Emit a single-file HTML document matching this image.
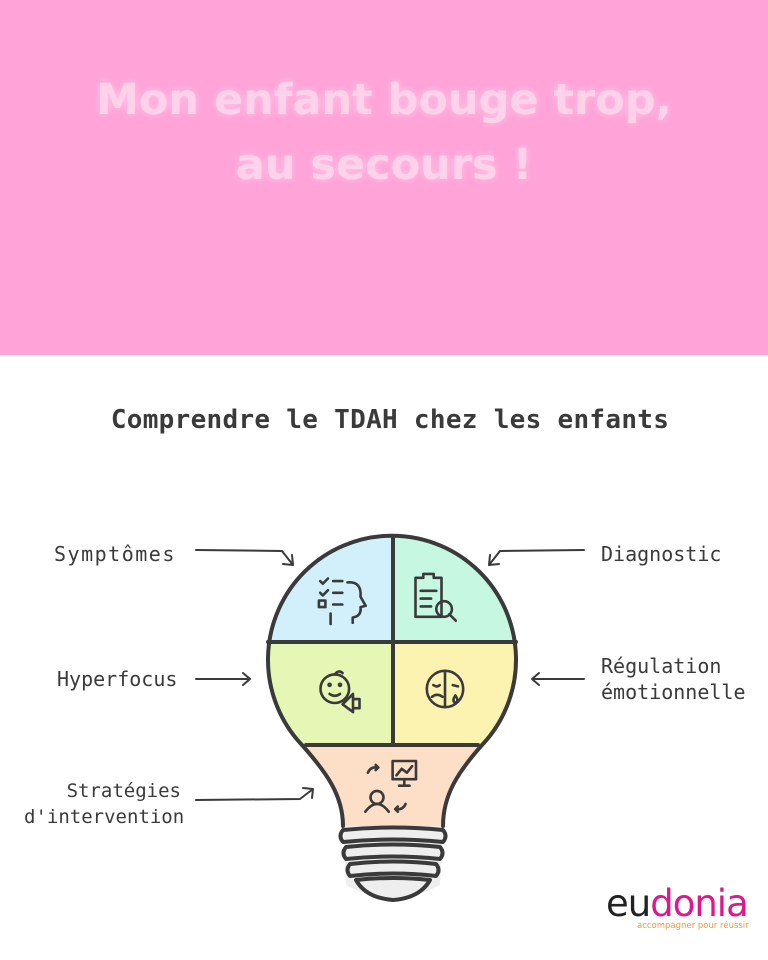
<!DOCTYPE html>
<html><head><meta charset="utf-8"><style>
body{margin:0;width:768px;height:960px;background:#fff;position:relative;overflow:hidden;font-family:"Liberation Sans",sans-serif}
.top{position:absolute;left:0;top:0;width:768px;height:355px;background:#FFA3D8}
.t{position:absolute;left:0;width:768px;text-align:center;color:#FFD2EC;font-weight:bold;font-size:43px;font-family:"DejaVu Sans",sans-serif;text-shadow:0 0 8px rgba(255,255,255,0.4)}
.sub{position:absolute;left:0;width:780px;top:405px;text-align:center;font-weight:bold;font-size:26px;color:#3a3a3a;font-family:"DejaVu Sans Mono","DejaVu Sans",sans-serif;letter-spacing:0.3px}
.l{position:absolute;font-size:20px;color:#3a3a3a;font-family:"DejaVu Sans Mono","DejaVu Sans",sans-serif;line-height:26px}
</style></head><body>
<div class="top"></div>
<div class="t" style="top:75px">Mon enfant bouge trop,</div>
<div class="t" style="top:140px">au secours !</div>
<div class="sub">Comprendre le TDAH chez les enfants</div>
<div class="l" style="left:54px;top:541px;letter-spacing:1.5px">Symptômes</div>
<div class="l" style="left:601px;top:541px">Diagnostic</div>
<div class="l" style="left:57px;top:666px">Hyperfocus</div>
<div class="l" style="left:601px;top:653px">Régulation<br>émotionnelle</div>
<div class="l" style="left:24px;top:778px;text-align:right;width:157px;font-size:19px">Stratégies<br>d'intervention</div>
<svg width="768" height="960" style="position:absolute;left:0;top:0" fill="none" stroke="#3a3a3a" stroke-width="2.5" stroke-linecap="round" stroke-linejoin="round">
<defs><clipPath id="c"><circle cx="392" cy="661" r="124"/></clipPath></defs>
<g clip-path="url(#c)" stroke="none">
<rect x="260" y="530" width="133" height="112" fill="#D2F0FB"/>
<rect x="393" y="530" width="130" height="112" fill="#C6F7E0"/>
<rect x="260" y="642" width="133" height="101" fill="#E6F7B5"/>
<rect x="393" y="642" width="130" height="101" fill="#FDF3B0"/>
</g>
<path d="M302,743 L482,743 C462,770 446,790 443,826 L343,826 C338,790 322,770 302,743Z" fill="#FDDFC8" stroke="none"/>
<path d="M343,826 L443,826 L440,885 Q393,910 346,885Z" fill="#eee" stroke="none"/>
<path d="M302,745 A124,124 0 1 1 482,745 C458,772 443,795 443,826 M302,745 C326,772 343,795 343,826" stroke-width="4"/>
<line x1="393" y1="538" x2="393" y2="743" stroke-width="4"/>
<line x1="268" y1="642" x2="516" y2="642" stroke-width="4"/>
<line x1="306" y1="745" x2="478" y2="745" stroke-width="4"/>
<g stroke-width="4">
<path d="M343,830 Q393,825 443,830 Q448,836 443,842 Q393,837 343,842 Q338,836 343,830Z"/>
<path d="M346,847 Q393,842 440,847 Q445,853 440,859 Q393,854 346,859 Q341,853 346,847Z"/>
<path d="M350,864 Q393,859 436,864 Q441,870 436,876 Q393,871 350,876 Q345,870 350,864Z"/>
<path d="M356,880 Q393,876 430,880 Q420,898 393,900 Q366,898 356,880Z"/>
</g>
<g stroke-width="2">
<path d="M196,550 L282,551 L293,565 M293,565 L283,564 M293,565 L292,555"/>
<path d="M584,550 L500,551 L489,565 M489,565 L499,564 M489,565 L490,555"/>
<path d="M196,679 L250,679 M243,673 L250,679 L243,685"/>
<path d="M584,679 L532,679 M539,673 L532,679 L539,685"/>
<path d="M196,800 L300,799 L313,789 M303,788 L313,789 L312,798"/>
</g>
<g stroke-width="2">
<g transform="translate(341,598) scale(1.3) translate(-341,-598)"><path d="M325,585 l2,2 4,-4 M325,594 l2,2 4,-4 M335,585 h7 M335,594 h7 M335,603 h7 M324,600 h5 v5 h-5z M333,610 v8 M350,617 v-4 q7,-1 6,-8 l4,-1 -4,-7 q1,-12 -10,-11"/></g>
<g transform="translate(435,596) scale(1.3) translate(-435,-596)"><path d="M420,582 h6 v-3 h8 v3 h6 v30 h-20z M424,592 h12 M424,598 h8 M424,604 h8"/><circle cx="442" cy="606" r="6"/><path d="M446,610 l5,5"/></g>
<g transform="translate(340,690) scale(1.3) translate(-340,-690)"><circle cx="336" cy="689" r="11"/><circle cx="332" cy="686" r="0.8"/><circle cx="340" cy="686" r="0.8"/><path d="M332,693 q4,3 8,0 M336,678 q3,-4 6,-1 M342,701 l8,-8 v14 z M350,697 h5 v7 h-5"/></g>
<g transform="translate(445,689) scale(1.3) translate(-445,-689)"><circle cx="445" cy="689" r="14"/><path d="M445,675 v28 M436,686 q3,2 5,0 M435,695 q4,-3 8,0 M451,686 l4,1"/><path d="M453,694 q-3,4 0,6 q3,-2 0,-6"/></g>
<g transform="translate(390,787) scale(1.3) translate(-390,-787)"><path d="M373,776 q2,-5 8,-4 l-2,-2 M381,772 l-2,2 M392,767 h18 v14 h-18z M401,781 v4 M397,786 h8 M395,778 l4,-5 4,3 4,-5"/><circle cx="380" cy="795" r="5"/><path d="M371,806 q9,-12 18,0 M402,800 q-2,5 -8,4 l2,-2 M394,804 l2,2"/></g>
</g>
</svg>
<div style="position:absolute;left:606px;top:884px;font-size:37px;font-family:'DejaVu Sans',sans-serif;letter-spacing:-1px;line-height:40px"><span style="color:#222">eu</span><span style="color:#E0168C">donia</span></div>
<div style="position:absolute;left:637px;top:921px;font-size:8.5px;color:#F39A2E;font-family:'DejaVu Sans',sans-serif">accompagner pour réussir</div>
</body></html>
